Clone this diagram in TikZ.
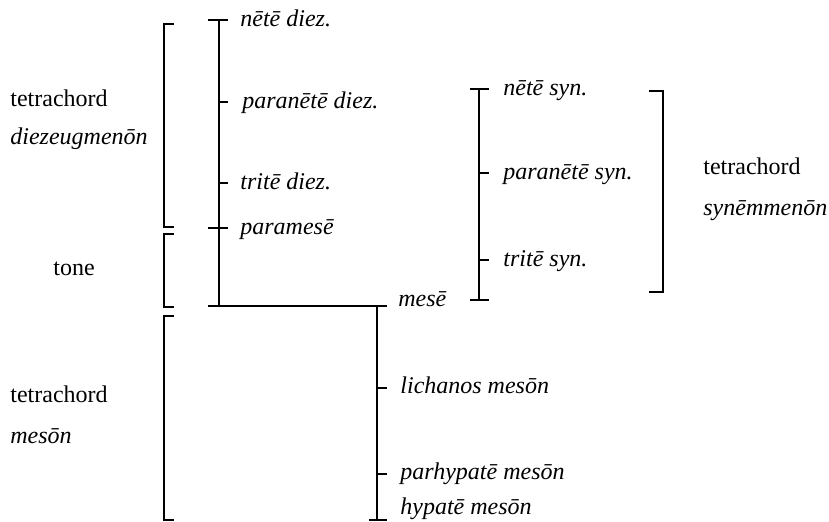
\documentclass[tikz,border=0pt]{standalone}
\usepackage{fontspec}
\setmainfont{Liberation Serif}
\begin{document}
\begin{tikzpicture}[x=0.5pt,y=-0.5pt,
  ln/.style={line width=0.95pt,line cap=butt},
  nm/.style={anchor=base west,inner sep=0pt,font=\fontsize{12}{14}\selectfont\itshape},
  lb/.style={anchor=base west,inner sep=0pt,font=\fontsize{12}{14}\selectfont}]
\useasboundingbox (0,0) rectangle (829,521);
% diezeugmenon column
\coordinate (dtop) at (219,20);
\coordinate (dbot) at (219,306);
\draw[ln] (dtop) -- (dbot);
\draw[ln] (208,20) -- (228,20);
\draw[ln] (219,102) -- (228,102);
\draw[ln] (219,183) -- (228,183);
\draw[ln] (208,228) -- (228,228);
% horizontal to meson
\coordinate (hl) at (208,306);
\coordinate (hr) at (387,306);
\draw[ln] (hl) -- (hr);
% meson column
\coordinate (mtop) at (377,306);
\coordinate (mbot) at (377,520);
\draw[ln] (mtop) -- (mbot);
\draw[ln] (377,388) -- (387,388);
\draw[ln] (377,474) -- (387,474);
\draw[ln] (369,520) -- (387,520);
% synemmenon column
\coordinate (stop) at (479,89);
\coordinate (sbot) at (479,300);
\draw[ln] (stop) -- (sbot);
\draw[ln] (470,89) -- (489,89);
\draw[ln] (479,173) -- (489,173);
\draw[ln] (479,260) -- (489,260);
\draw[ln] (470,300) -- (489,300);
% left brackets
\draw[ln] (174,24) -- (164,24) -- (164,227) -- (174,227);
\draw[ln] (174,234) -- (164,234) -- (164,307) -- (174,307);
\draw[ln] (174,316) -- (164,316) -- (164,520) -- (174,520);
% right bracket
\draw[ln] (649,91) -- (663,91) -- (663,292) -- (649,292);
% note names
\node[nm] (nd) at (240,26) {nētē diez.};
\node[nm] (pnd) at (242,108) {paranētē diez.};
\node[nm] (td) at (240,189) {tritē diez.};
\node[nm] (pm) at (240,234) {paramesē};
\node[nm] (me) at (398,306) {mesē};
\node[nm] (ns) at (503,95) {nētē syn.};
\node[nm] (pns) at (503,179) {paranētē syn.};
\node[nm] (ts) at (503,266) {tritē syn.};
\node[nm] (lm) at (400,393) {lichanos mesōn};
\node[nm] (phm) at (400,479) {parhypatē mesōn};
\node[nm] (hm) at (400,514) {hypatē mesōn};
% group labels
\node[lb] (t1) at (10,106) {tetrachord};
\node[nm] (t1b) at (10,144) {diezeugmenōn};
\node[lb,anchor=base] (tn) at (74,275) {tone};
\node[lb] (t2) at (10,402) {tetrachord};
\node[nm] (t2b) at (10,443) {mesōn};
\node[lb] (t3) at (703,174) {tetrachord};
\node[nm] (t3b) at (703,215) {synēmmenōn};
\end{tikzpicture}
\end{document}
